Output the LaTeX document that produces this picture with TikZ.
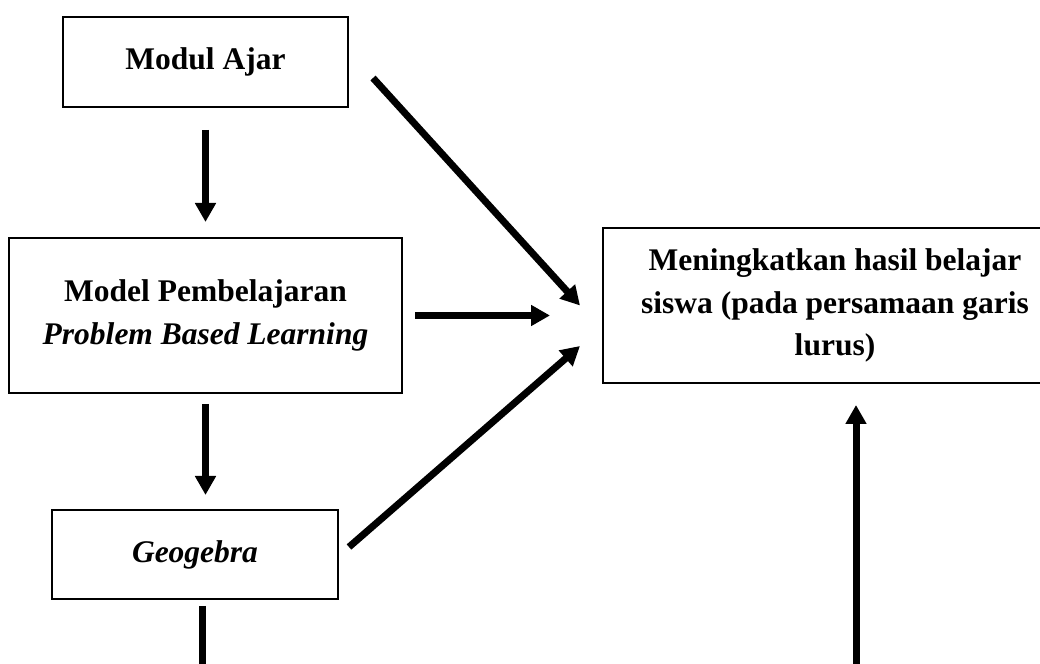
\documentclass[tikz,border=0pt]{standalone}
\usepackage{fontspec}
\setmainfont{Liberation Serif}
\usetikzlibrary{arrows.meta}
\tikzstyle{box} = [draw, line width=0.8pt, inner sep=0pt, align=center, font=\fontsize{12.6pt}{16.9pt}\selectfont\bfseries]
\tikzstyle{arrow} = [line width=2.8pt, -{Triangle[length=7.6pt,width=8pt]}]

\begin{document}
\begin{tikzpicture}[x=0.4pt, y=-0.4pt]
\useasboundingbox (0,0) rectangle (1040,664);
\node (modul) [box, minimum width=114pt, minimum height=36pt] at (205.5,62) {Modul Ajar};
\node (model) [box, minimum width=157.2pt, minimum height=62pt] at (205.5,315.5) {Model Pembelajaran\\\textit{Problem Based Learning}};
\node (geo) [box, minimum width=114.4pt, minimum height=35.6pt] at (195,554.5) {\textit{Geogebra}};
\node (hasil) [box, minimum width=185.6pt, minimum height=62pt] at (835,305.5) {Meningkatkan hasil belajar\\siswa (pada persamaan garis\\lurus)};
\coordinate (geoout) at (202,700);
\coordinate (hasilin) at (856,700);

\draw [arrow, shorten <=8.8pt, shorten >=6pt] (modul.south) -- (model.north);
\draw [arrow, shorten <=4pt, shorten >=5.6pt] (model.south) -- (model.south |- geo.north);
\draw [line width=2.8pt, shorten <=2.4pt] (geoout |- geo.south) -- (geoout);
\draw [arrow] ([xshift=9.6pt, yshift=-6.4pt]modul.east) -- ([xshift=-8.8pt]hasil.west);
\draw [arrow, shorten <=4.8pt, shorten >=20.8pt] (model.east) -- (model.east -| hasil.west);
\draw [arrow] ([xshift=4pt, yshift=3pt]geo.east) -- ([xshift=-8.8pt, yshift=-16.2pt]hasil.west);
\draw [arrow, shorten >=8.4pt] (hasilin) -- (hasilin |- hasil.south);
\end{tikzpicture}
\end{document}
